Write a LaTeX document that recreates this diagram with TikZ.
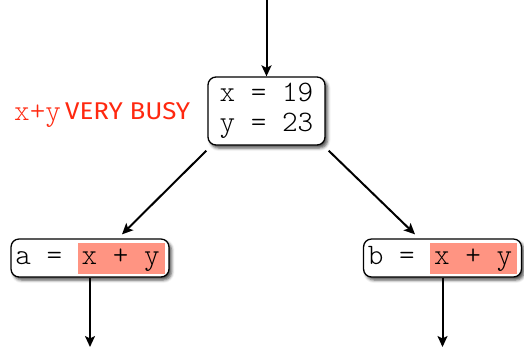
\documentclass[tikz,border=0pt]{standalone}
\usepackage{fontspec}
\usetikzlibrary{arrows.meta,shadows.blur}
\newfontfamily\codefont{Latin Modern Mono Light}
\newfontfamily\busyfont{Fira Sans}
\definecolor{busyred}{RGB}{255,40,15}
\definecolor{hlcolor}{RGB}{255,148,130}
\newcommand\hlpart[1]{{\setlength{\fboxsep}{0pt}\colorbox{hlcolor}{\rule[-9pt]{0pt}{31pt}\hspace{4pt}#1\hspace{5pt}}}}
\tikzset{
  codebox/.style={draw=black, line width=1.3pt, rounded corners=8pt, fill=white,
    blur shadow={shadow xshift=2.5pt, shadow yshift=-3pt, shadow blur radius=3pt, shadow opacity=70},
    font=\codefont\fontsize{29.7}{30}\selectfont},
  flow/.style={draw=black, line width=2pt, -{Stealth[length=11pt,width=10pt,inset=2.5pt]}}
}
\begin{document}
\begin{tikzpicture}[x=1pt,y=1pt]
\useasboundingbox (0,0) rectangle (524,-349);
\node[codebox, minimum width=117pt, minimum height=68pt, align=left, inner sep=0pt] (top) at (266.5,-111) {x = 19\\y = 23};
\node[codebox, inner xsep=4.3pt, inner ysep=3.5pt] (a) at (90,-258) {a = \hlpart{x + y}};
\node[codebox, inner xsep=4.3pt, inner ysep=3.5pt] (b) at (442.5,-258) {b = \hlpart{x + y}};
\coordinate (in) at (266.5,0);
\coordinate (outa) at (90,-347);
\coordinate (outb) at (442.5,-347);
\draw[flow] (in) -- (top.north);
\draw[flow] ([xshift=-1pt,yshift=-5pt]top.south west) -- ([xshift=32pt,yshift=4pt]a.north);
\draw[flow] ([xshift=3pt,yshift=-5pt]top.south east) -- ([xshift=-27.5pt,yshift=4pt]b.north);
\draw[flow] (a.south) -- (outa);
\draw[flow] (b.south) -- (outb);
\node[anchor=base west, inner sep=0pt, text=busyred, font=\codefont\fontsize{29.7}{30}\selectfont] (xy) at (14,-120) {x+y};
\node[anchor=south west, inner sep=0pt, text=busyred] (busy) at (65,-120) {\resizebox{125pt}{17pt}{\busyfont VERY BUSY}};
\end{tikzpicture}
\end{document}
